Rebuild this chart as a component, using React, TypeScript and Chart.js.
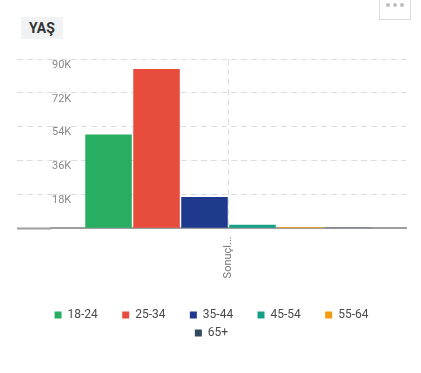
import React, { useEffect, useRef } from 'react';
import { Chart, registerables } from 'chart.js';

Chart.register(...registerables);

const categories = ['Sonuçl...'];
const seriesLabels = ['18-24', '25-34', '35-44', '45-54', '55-64', '65+'];
const values1824 = [49800];
const values2534 = [84700];
const values3544 = [16600];
const values4554 = [1900];
const values5564 = [700];
const values65 = [50];
const seriesValues = [values1824, values2534, values3544, values4554, values5564, values65];
const seriesColors = ['#27ae60', '#e74c3c', '#1f3a8c', '#16a085', '#f39c12', '#34495e'];
const yTickValues = [0, 18000, 36000, 54000, 72000, 90000];
const yTickLabel = (v: number) => (v === 0 ? '' : `${v / 1000}K`);

const GAP = '\u2003\u2002';
const LEGEND_FONT = '12px Roboto';

const legendTrim = {
  id: 'legendTrim',
  afterLayout(chart: any) {
    const lg = chart.legend;
    if (!lg || !lg.lineWidths) return;
    const ctx = chart.ctx;
    ctx.save();
    ctx.font = LEGEND_FONT;
    const w = ctx.measureText(GAP).width;
    ctx.restore();
    lg.lineWidths = lg.lineWidths.map((v: number) => v - w);
  },
};

export default function App() {
  const ref = useRef<HTMLCanvasElement | null>(null);

  useEffect(() => {
    if (!ref.current) return;
    const chart = new Chart(ref.current, {
      type: 'bar',
      data: {
        labels: categories,
        datasets: seriesLabels.map((label, i) => ({
          label,
          data: seriesValues[i],
          backgroundColor: seriesColors[i],
          borderWidth: 0,
          barPercentage: 0.97,
          categoryPercentage: 0.811,
        })),
      },
      plugins: [legendTrim],
      options: {
        animation: false,
        responsive: false,
        devicePixelRatio: 1,
        layout: { padding: { left: 17, right: 15, top: 59, bottom: 24 } },
        plugins: {
          tooltip: { enabled: false },
          legend: {
            position: 'bottom',
            labels: {
              boxWidth: 7,
              boxHeight: 7,
              padding: 6,
              color: '#4a4a4a',
              font: { family: 'Roboto', size: 12 },
              generateLabels: (chart: any) =>
                chart.data.datasets.map((ds: any, i: number) => ({
                  text: ds.label + GAP,
                  fillStyle: ds.backgroundColor,
                  strokeStyle: ds.backgroundColor,
                  lineWidth: 0,
                  hidden: !chart.isDatasetVisible(i),
                  datasetIndex: i,
                  fontColor: '#4a4a4a',
                })),
            },
          },
        },
        scales: {
          x: {
            grid: { display: true, offset: false, color: '#dddddd', lineWidth: 1, drawTicks: false },
            border: { display: true, color: '#9e9e9e', width: 2, dash: [6, 4] },
            ticks: {
              minRotation: 90,
              maxRotation: 90,
              padding: 8,
              color: '#777',
              font: { family: 'Roboto', size: 11 },
            },
            afterFit: (s: any) => {
              s.height = 74.7;
            },
          },
          y: {
            min: yTickValues[0],
            max: yTickValues[yTickValues.length - 1],
            afterBuildTicks: (s: any) => {
              s.ticks = yTickValues.map((v) => ({ value: v }));
            },
            grid: {
              color: (c: any) => (c.tick && c.tick.value === 0 ? 'rgba(0,0,0,0)' : '#dddddd'),
              lineWidth: 1,
              drawTicks: true,
              tickLength: 34,
              tickColor: (c: any) => (c.tick && c.tick.value === 0 ? '#9e9e9e' : '#dddddd'),
              tickWidth: (c: any) => (c.tick && c.tick.value === 0 ? 2 : 1),
              tickBorderDash: (c: any) => (c.tick && c.tick.value === 0 ? [] : [6, 4]),
            },
            border: { display: false, dash: [6, 4] },
            ticks: {
              mirror: true,
              padding: 1,
              labelOffset: 6,
              color: '#888',
              font: { family: 'Roboto', size: 11 },
              callback: (v: any) => yTickLabel(Number(v)),
            },
            afterFit: (s: any) => {
              s.width = 34;
            },
          },
        },
      },
    } as any);
    return () => chart.destroy();
  }, []);

  return (
    <div
      style={{
        position: 'fixed',
        left: 0,
        top: 0,
        width: 421,
        height: 373,
        background: '#fff',
        fontFamily: 'Roboto, sans-serif',
        overflow: 'hidden',
      }}
    >
      <canvas ref={ref} width={421} height={373} style={{ position: 'absolute', left: 0, top: 0 }} />
      <div
        style={{
          position: 'absolute',
          left: 21,
          top: 17,
          width: 42,
          height: 22,
          background: '#f0f2f4',
          color: '#333',
          fontWeight: 700,
          fontSize: 14,
          display: 'flex',
          alignItems: 'center',
          justifyContent: 'center',
        }}
      >
        YAŞ
      </div>
      <div
        style={{
          position: 'absolute',
          left: 379,
          top: -2,
          width: 32,
          height: 22,
          border: '1px solid #dcdcdc',
          boxSizing: 'border-box',
          display: 'flex',
          justifyContent: 'center',
          alignItems: 'flex-start',
          paddingTop: 4,
          gap: 3,
        }}
      >
        {[0, 1, 2].map((i) => (
          <span key={i} style={{ width: 4, height: 4, borderRadius: 2, background: '#bdbdbd', display: 'block' }} />
        ))}
      </div>
    </div>
  );
}
